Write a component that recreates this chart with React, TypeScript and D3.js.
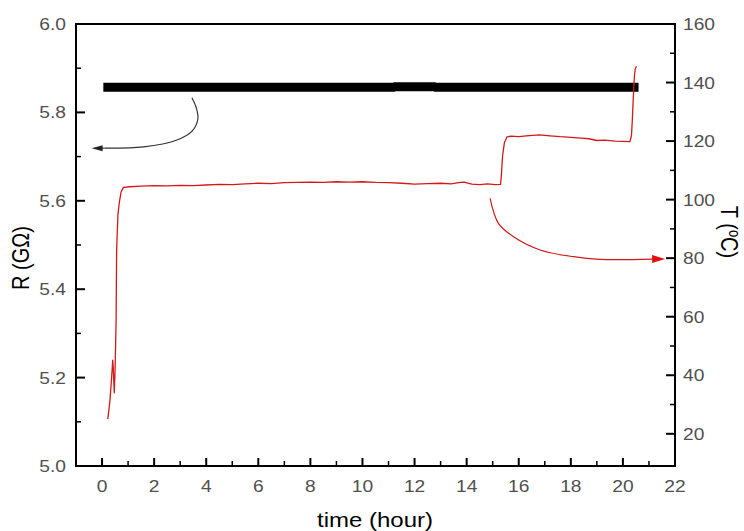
import React from "react";
import * as d3 from "d3";

// ---- data ----
const rTime = [0.05, 11.2, 11.25, 12.75, 12.8, 20.6];
const rValue = [5.857, 5.857, 5.8583, 5.8583, 5.857, 5.857];

const tTime = [
  0.22, 0.3, 0.37, 0.41, 0.43, 0.46, 0.47, 0.5, 0.52, 0.54, 0.56, 0.61, 0.66, 0.73, 0.82, 1.08,
  1.5, 2, 2.5, 3, 3.5, 4, 4.5, 5, 5.5, 6, 6.5, 7, 7.5, 8, 8.5, 9, 9.5, 10, 10.5, 11, 11.5, 12,
  12.5, 13, 13.4, 13.7, 13.9, 14.2, 14.5, 14.8, 15.1, 15.3, 15.33, 15.38, 15.45, 15.55, 15.7,
  16.0, 16.4, 16.8, 17.2, 17.6, 18.0, 18.4, 18.7, 19.0, 19.3, 19.7, 20.0, 20.27, 20.33, 20.36,
  20.4, 20.44, 20.47, 20.52,
];
const tValue = [
  25.0, 31.0, 39.5, 45.2, 42.5, 36.1, 34.0, 41.8, 50.0, 58.9, 82.8, 94.7, 98.8, 102.6, 104.2, 104.4,
  104.6, 104.8, 104.7, 104.9, 104.8, 105.0, 105.2, 105.1, 105.4, 105.6, 105.5, 105.8, 105.9, 106.0,
  105.9, 106.1, 106.0, 106.1, 105.9, 105.8, 105.6, 105.3, 105.5, 105.6, 105.4, 105.8, 106.0, 105.3,
  105.1, 105.4, 105.1, 105.2, 108.0, 115.0, 119.5, 121.4, 121.7, 121.5, 121.9, 122.1, 121.8, 121.5,
  121.3, 121.0, 120.8, 120.2, 120.3, 120.0, 119.9, 119.8, 122.0, 127.0, 135.0, 142.0, 144.5, 145.6,
];

// annotation arrows (data units)
const blackArrowT = [3.45, 3.62, 3.68, 3.45, 2.85, 1.6, 0.1, -0.4];
const blackArrowR = [5.833, 5.81, 5.785, 5.757, 5.737, 5.722, 5.719, 5.719];
const redArrowT = [14.9, 15.22, 15.8, 16.82, 18.1, 19.12, 21.16, 21.62];
const redArrowTemp = [100.4, 91.9, 87.3, 82.8, 80.5, 79.6, 79.7, 79.7];

const xMajor = [0, 2, 4, 6, 8, 10, 12, 14, 16, 18, 20, 22];
const xMinor = [1, 3, 5, 7, 9, 11, 13, 15, 17, 19, 21];
const rMajor = [5.0, 5.2, 5.4, 5.6, 5.8, 6.0];
const rMinor = [5.1, 5.3, 5.5, 5.7, 5.9];
const tMajor = [20, 40, 60, 80, 100, 120, 140, 160];
const tMinor = [30, 50, 70, 90, 110, 130, 150];

const W = 744;
const H = 531;
const L = 76, R = 675, T = 24, B = 466;
const SX = 1.2; // horizontal stretch of text
const tickColor = "#505050";
const font = "'Liberation Sans', Arial, sans-serif";

export default function App() {
  const x = d3.scaleLinear().domain([-1, 22]).range([L, R]);
  const yR = d3.scaleLinear().domain([5.0, 6.0]).range([B, T]);
  const yT = d3.scaleLinear().domain([9, 160]).range([B, T]);

  const rLine = d3.line<number>().x((d, i) => x(rTime[i])).y((d) => yR(d))(rValue) || "";
  const tLine = d3.line<number>().x((d, i) => x(tTime[i])).y((d) => yT(d))(tValue) || "";

  const blackPts = blackArrowT.slice(0, -1).map((t, i) => [x(t), yR(blackArrowR[i])] as [number, number]);
  const redPts = redArrowT.slice(0, -1).map((t, i) => [x(t), yT(redArrowTemp[i])] as [number, number]);
  const curve = d3.line().curve(d3.curveCatmullRom.alpha(0.5));
  const blackPath = curve(blackPts) || "";
  const redPath = curve(redPts) || "";
  const bTip = [x(blackArrowT[blackArrowT.length - 1]), yR(blackArrowR[blackArrowR.length - 1])];
  const bBase = blackPts[blackPts.length - 1];
  const rTip = [x(redArrowT[redArrowT.length - 1]), yT(redArrowTemp[redArrowTemp.length - 1])];
  const rBase = redPts[redPts.length - 1];

  return (
    <div style={{ position: "absolute", left: 0, top: 0 }}>
      <svg width={W} height={H} style={{ display: "block", background: "#fff" }}>
        <rect x={0} y={0} width={W} height={H} fill="#fff" />

        {/* black R line */}
        <path d={rLine} fill="none" stroke="#000" strokeWidth={9} strokeLinecap="butt" />

        {/* red T line */}
        <path d={tLine} fill="none" stroke="#d41818" strokeWidth={1.3} strokeLinejoin="round" />

        {/* arrows */}
        <path d={blackPath} fill="none" stroke="#333" strokeWidth={1.2} />
        <line x1={bBase[0]} y1={bBase[1]} x2={bTip[0] + 6} y2={bTip[1]} stroke="#333" strokeWidth={1.2} />
        <polygon
          points={`${bTip[0]},${bTip[1]} ${bTip[0] + 11},${bTip[1] - 3} ${bTip[0] + 11},${bTip[1] + 3}`}
          fill="#222"
        />
        <path d={redPath} fill="none" stroke="#d41818" strokeWidth={1.2} />
        <line x1={rBase[0]} y1={rBase[1]} x2={rTip[0] - 8} y2={rTip[1]} stroke="#d41818" strokeWidth={1.2} />
        <polygon
          points={`${rTip[0]},${rTip[1]} ${rTip[0] - 13},${rTip[1] - 4} ${rTip[0] - 13},${rTip[1] + 4}`}
          fill="#e01010"
        />

        {/* frame */}
        <line x1={L} y1={T} x2={R} y2={T} stroke="#000" strokeWidth={2} />
        <line x1={L} y1={T - 1} x2={L} y2={B + 1} stroke="#000" strokeWidth={2} />
        <line x1={R} y1={T - 1} x2={R} y2={B + 1} stroke="#000" strokeWidth={2} />
        <line x1={L - 1} y1={B} x2={R + 1} y2={B} stroke="#000" strokeWidth={2} />

        {/* x ticks */}
        {xMajor.filter((v) => v < 22).map((v) => (
          <line key={"xM" + v} x1={x(v)} x2={x(v)} y1={B} y2={B - 8} stroke="#000" strokeWidth={2} />
        ))}
        {xMinor.map((v) => (
          <line key={"xm" + v} x1={x(v)} x2={x(v)} y1={B} y2={B - 5} stroke="#000" strokeWidth={1.5} />
        ))}
        {xMajor.map((v) => (
          <text key={"xl" + v} transform={`translate(${x(v)},492) scale(${SX},1)`} textAnchor="middle"
            fontFamily={font} fontSize={16} fill={tickColor}>{v}</text>
        ))}

        {/* left ticks */}
        {rMajor.map((v) => (
          <line key={"rM" + v} x1={L} x2={L + 9} y1={yR(v)} y2={yR(v)} stroke="#000" strokeWidth={2} />
        ))}
        {rMinor.map((v) => (
          <line key={"rm" + v} x1={L} x2={L + 5} y1={yR(v)} y2={yR(v)} stroke="#000" strokeWidth={1.5} />
        ))}
        {rMajor.map((v) => (
          <text key={"rl" + v} transform={`translate(66,${yR(v) + 6}) scale(${SX},1)`} textAnchor="end"
            fontFamily={font} fontSize={16} fill={tickColor}>{v.toFixed(1)}</text>
        ))}

        {/* right ticks */}
        {tMajor.filter((v) => v < 160).map((v) => (
          <line key={"tM" + v} x1={R} x2={R - 9} y1={yT(v)} y2={yT(v)} stroke="#000" strokeWidth={2} />
        ))}
        {tMinor.map((v) => (
          <line key={"tm" + v} x1={R} x2={R - 5} y1={yT(v)} y2={yT(v)} stroke="#000" strokeWidth={1.5} />
        ))}
        {tMajor.map((v) => (
          <text key={"tl" + v} transform={`translate(683,${yT(v) + 6}) scale(${SX},1)`} textAnchor="start"
            fontFamily={font} fontSize={16} fill={tickColor}>{v}</text>
        ))}

        {/* axis titles */}
        <text transform={`translate(375,527) scale(${SX},1)`} textAnchor="middle" fontFamily={font}
          fontSize={20} fill="#000">time (hour)</text>
        <text transform={`translate(29,258) scale(${SX},1) rotate(-90)`} textAnchor="middle" fontFamily={font}
          fontSize={20} fill="#000">R (GΩ)</text>
        <text transform={`translate(721,232) scale(${SX},1) rotate(90)`} textAnchor="middle" fontFamily={font}
          fontSize={20} fill="#000">
          T (<tspan fontSize={13} dy={-7}>o</tspan><tspan dy={7}>C)</tspan>
        </text>
      </svg>
    </div>
  );
}
